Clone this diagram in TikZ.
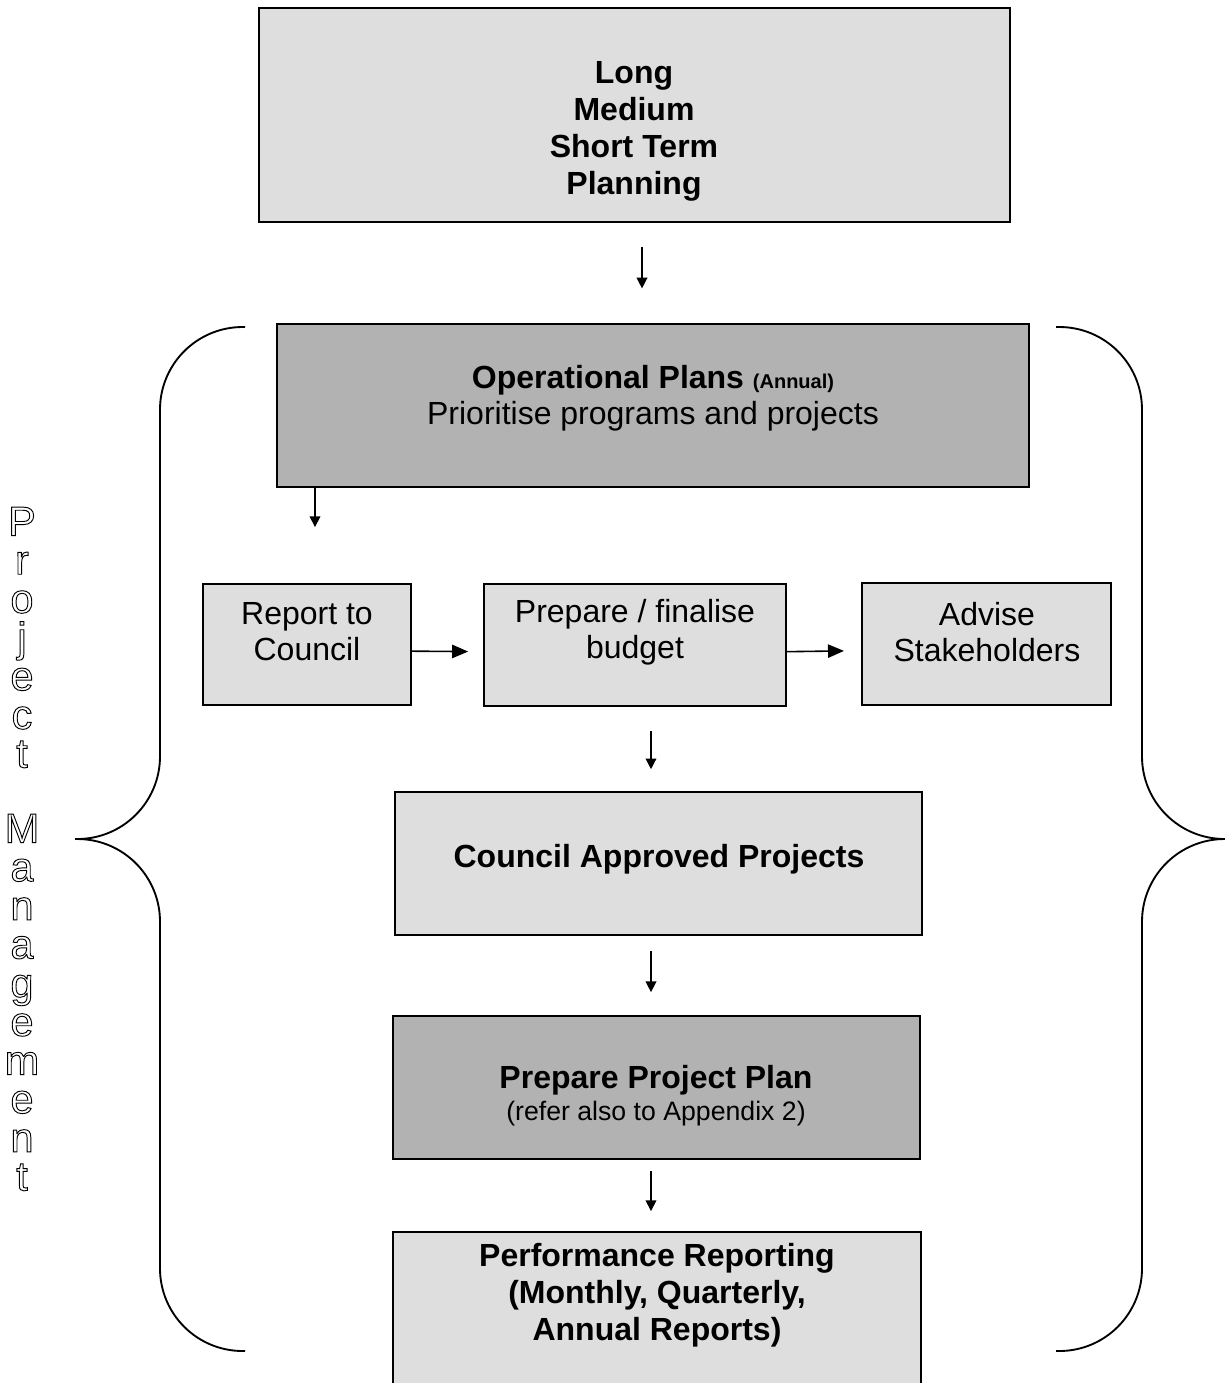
\documentclass[tikz,border=0pt]{standalone}
\usepackage{fontspec}
\setmainfont{Liberation Sans}
\usetikzlibrary{arrows.meta,fit}

\definecolor{boxlight}{gray}{0.87}
\definecolor{boxdark}{gray}{0.70}
\tikzstyle{box_light} = [draw, line width=0.7pt, fill=boxlight, inner sep=0pt]
\tikzstyle{box_dark} = [draw, line width=0.7pt, fill=boxdark, inner sep=0pt]
\tikzstyle{box_text} = [align=center, inner sep=0pt, font=\fontsize{12}{13.6}\selectfont]
\tikzstyle{box_bold} = [align=center, inner sep=0pt, font=\fontsize{12}{13.9}\selectfont\bfseries]
\tikzstyle{arrow_down} = [-{Triangle[width=4pt,length=4pt]}, line width=0.5pt]
\tikzstyle{arrow_side} = [-{Triangle[width=5pt,length=6pt]}, line width=0.6pt]
\tikzstyle{brace} = [line width=0.7pt, rounded corners=31pt]

% hollow (outlined) glyphs via the pdf text render mode
\newcommand{\hollowon}{\special{pdf:literal direct 1 Tr 0.35 w}}
\newcommand{\hollowoff}{\special{pdf:literal direct 0 Tr}}

\begin{document}
\begin{tikzpicture}[x=0.375pt, y=-0.375pt]
			\useasboundingbox (0,0) rectangle (1225,1383);

			% boxes
			\node (top) [box_light, fit={(259,8) (1010,222)}] {};
			\node (op) [box_dark, fit={(277,324) (1029,487)}] {};
			\node (report) [box_light, fit={(203,584) (411,705)}] {};
			\node (budget) [box_light, fit={(484,584) (786,706)}] {};
			\node (advise) [box_light, fit={(862,583) (1111,705)}] {};
			\node (council) [box_light, fit={(395,792) (922,935)}] {};
			\node (plan) [box_dark, fit={(393,1016) (920,1159)}] {};
			\node (perf) [box_light, fit={(393,1232) (921,1420)}] {};

			% box texts
			\node (top_t) at (634,131) [box_bold] {Long\\Medium\\Short Term\\Planning};
			\node (op_t) at (653,398) [box_text] {\textbf{Operational Plans} {\fontsize{7.5}{9}\selectfont\bfseries (Annual)}\\Prioritise programs and projects};
			\node (report_t) at (307,632) [box_text] {Report to\\Council};
			\node (budget_t) at (635,632) [box_text] {Prepare / finalise\\budget};
			\node (advise_t) at (987,632) [box_text] {Advise\\Stakeholders};
			\node (council_t) at (659,859) [box_bold] {Council Approved Projects};
			\node (plan_t) at (656,1096) [box_text] {\textbf{Prepare Project Plan}\\[-1.5pt]{\fontsize{10}{11.6}\selectfont (refer also to Appendix 2)}};
			\node (perf_t) at (657,1295) [box_bold] {Performance Reporting\\(Monthly, Quarterly,\\Annual Reports)};

			% arrows
			\coordinate (col_a) at (642,0);
			\coordinate (col_b) at (315,0);
			\coordinate (col_c) at (651,0);
			\draw[arrow_down, shorten <=9pt, shorten >=13pt] (top.south -| col_a) -- (op.north -| col_a);
			\draw[arrow_down, shorten >=21pt] (op.south -| col_b) -- (report.north -| col_b);
			\draw[arrow_side, shorten >=5.6pt] ([yshift=-2.5pt]report.east) -- ([yshift=-2.5pt]budget.west);
			\draw[arrow_side, shorten >=6.4pt] ([yshift=-2.5pt]budget.east) -- ([yshift=-2.5pt]advise.west);
			\draw[arrow_down, shorten <=9pt, shorten >=8.2pt] (budget.south -| col_c) -- (council.north -| col_c);
			\draw[arrow_down, shorten <=5.6pt, shorten >=8.6pt] (council.south -| col_c) -- (plan.north -| col_c);
			\draw[arrow_down, shorten <=4.1pt, shorten >=7.5pt] (plan.south -| col_c) -- (perf.north -| col_c);

			% braces
			\draw[brace] (245,327) -| (160,839) -- (75,839);
			\draw[brace] (75,839) -- (160,839) |- (245,1351);
			\draw[brace] (1056,327) -| (1142,839) -- (1225,839);
			\draw[brace] (1225,839) -- (1142,839) |- (1056,1351);

			% side caption
			\node (side_t) at (22,849) [align=center, inner sep=0pt, font=\fontsize{15.5}{14.5}\selectfont]
				{\hollowon P\\r\\o\\j\\e\\c\\t\\[13.6pt]M\\a\\n\\a\\g\\e\\m\\e\\n\\t\hollowoff};
		\end{tikzpicture}
\end{document}
